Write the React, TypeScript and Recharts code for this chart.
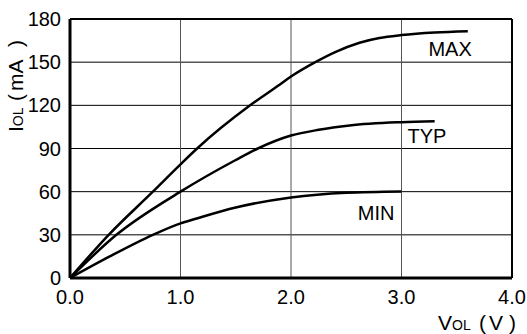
import React from 'react';
import {
  LineChart, Line, XAxis, YAxis, CartesianGrid, ReferenceLine, ReferenceDot, Label,
} from 'recharts';

const xTicks = [0, 1, 2, 3, 4];
const yTicks = [0, 30, 60, 90, 120, 150, 180];

const maxV = [0, 0.35, 0.75, 1.0, 1.15, 1.63, 1.9, 2.0, 2.22, 2.4, 2.62, 2.8, 3.0, 3.3, 3.6];
const maxI = [0, 30, 60, 79, 90, 120, 134.5, 140, 150, 157, 163.5, 166.8, 168.8, 170.6, 171.5];

const typV = [0, 0.42, 1.0, 1.5, 1.7, 2.0, 2.25, 2.53, 3.0, 3.3];
const typI = [0, 30, 60, 82, 90, 99, 103, 106, 108.3, 109];

const minV = [0, 0.36, 0.75, 1.0, 1.13, 1.5, 2.0, 2.5, 3.0];
const minI = [0, 15, 30, 38, 41, 49, 56, 59.3, 60.2];

const seriesNames = ['MAX', 'TYP', 'MIN'];
const labelV = [3.44, 3.23, 2.77];
const labelI = [159, 98.5, 45.5];

const toPts = (v: number[], i: number[]) => v.map((x, k) => ({ v: x, i: i[k] }));
const series = [toPts(maxV, maxI), toPts(typV, typI), toPts(minV, minI)];

const FONT = 'Liberation Sans, Arial, Helvetica, sans-serif';

const YLabel = () => {
  const cx = 23;
  const cy = 132;
  return (
    <text
      x={cx}
      y={cy}
      transform={`rotate(-90 ${cx} ${cy})`}
      textAnchor="start"
      fontFamily={FONT}
      fontSize={21}
      fill="#000"
    >
      <tspan>I</tspan>
      <tspan fontSize={14}>OL</tspan>
      <tspan x={cx + 31}>(</tspan>
      <tspan x={cx + 41}>mA</tspan>
      <tspan x={cx + 85}>)</tspan>
    </text>
  );
};

const XLabel = () => {
  return (
    <text
      x={438}
      y={330}
      textAnchor="start"
      fontFamily={FONT}
      fontSize={21}
      fill="#000"
    >
      <tspan>V</tspan>
      <tspan fontSize={14}>OL</tspan>
      <tspan x={479}>(</tspan>
      <tspan x={489}>V</tspan>
      <tspan x={509}>)</tspan>
    </text>
  );
};

export default function App() {
  return (
    <div style={{ position: 'absolute', left: 0, top: 0, width: 527, height: 334, background: '#fff' }}>
      <LineChart
        width={527}
        height={334}
        margin={{ top: 19, right: 15, left: 0, bottom: 26 }}
      >
        <CartesianGrid horizontal vertical={false} stroke="#000" strokeWidth={1} />
        <CartesianGrid horizontal={false} vertical stroke="#555" strokeWidth={1} />
        <XAxis
          type="number"
          dataKey="v"
          domain={[0, 4]}
          ticks={xTicks}
          tickFormatter={(t: number) => t.toFixed(1)}
          allowDataOverflow
          height={30}
          tickLine={false}
          tickSize={0}
          tickMargin={12}
          axisLine={{ stroke: '#000', strokeWidth: 3 }}
          tick={{ fill: '#000', fontSize: 20, fontFamily: FONT }}
        >
          <Label content={<XLabel />} />
        </XAxis>
        <YAxis
          type="number"
          dataKey="i"
          domain={[0, 180]}
          ticks={yTicks}
          allowDataOverflow
          width={70}
          tickLine={false}
          tickSize={0}
          tickMargin={9}
          axisLine={{ stroke: '#000', strokeWidth: 3 }}
          tick={{ fill: '#000', fontSize: 20, fontFamily: FONT }}
        >
          <Label content={<YLabel />} />
        </YAxis>
        <ReferenceLine y={180} stroke="#000" strokeWidth={2} />
        <ReferenceLine x={4} stroke="#000" strokeWidth={2} />
        {series.map((d, k) => (
          <Line
            key={seriesNames[k]}
            data={d}
            dataKey="i"
            type="monotone"
            stroke="#000"
            strokeWidth={2.5}
            dot={false}
            activeDot={false}
            isAnimationActive={false}
          />
        ))}
        {seriesNames.map((n, k) => (
          <ReferenceDot
            key={'lbl' + n}
            x={labelV[k]}
            y={labelI[k]}
            r={0}
            fill="none"
            stroke="none"
            label={{ value: n, position: 'center', fill: '#000', fontSize: 20, fontFamily: FONT }}
          />
        ))}
      </LineChart>
    </div>
  );
}
